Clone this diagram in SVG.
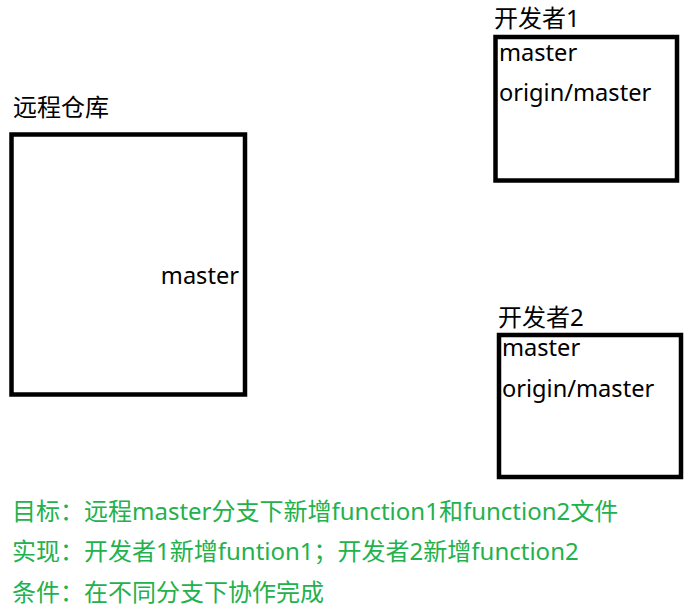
<svg xmlns="http://www.w3.org/2000/svg" width="694" height="612" viewBox="0 0 694 612">
<style>
text{font-family:"Noto Sans","Noto Sans CJK SC",sans-serif;font-size:24px;fill:#000}
.lbl{font-size:23.6px}
.box{fill:#fff;stroke:#000;stroke-width:4.5}
.note{fill:#22b14c;font-size:24px}
</style>
<rect width="694" height="612" fill="#fff"/>
<g id="remote">
<text x="13" y="116">远程仓库</text>
<rect class="box" x="11.5" y="134.5" width="233.5" height="260"/>
<text class="lbl" x="239" y="284" text-anchor="end">master</text>
</g>
<g id="dev1">
<text x="494" y="27">开发者1</text>
<rect class="box" x="495.5" y="37" width="181.5" height="143.5"/>
<text class="lbl" x="499" y="61">master</text>
<text class="lbl" x="499" y="101">origin/master</text>
</g>
<g id="dev2">
<text x="498" y="326">开发者2</text>
<rect class="box" x="499" y="335" width="182" height="142"/>
<text class="lbl" x="502" y="356">master</text>
<text class="lbl" x="502" y="397">origin/master</text>
</g>
<g id="connectors"></g>
<g id="notes">
<text class="note" x="12" y="520">目标：远程master分支下新增function1和function2文件</text>
<text class="note" x="12" y="560">实现：开发者1新增funtion1；开发者2新增function2</text>
<text class="note" x="12" y="601">条件：在不同分支下协作完成</text>
</g>
</svg>
